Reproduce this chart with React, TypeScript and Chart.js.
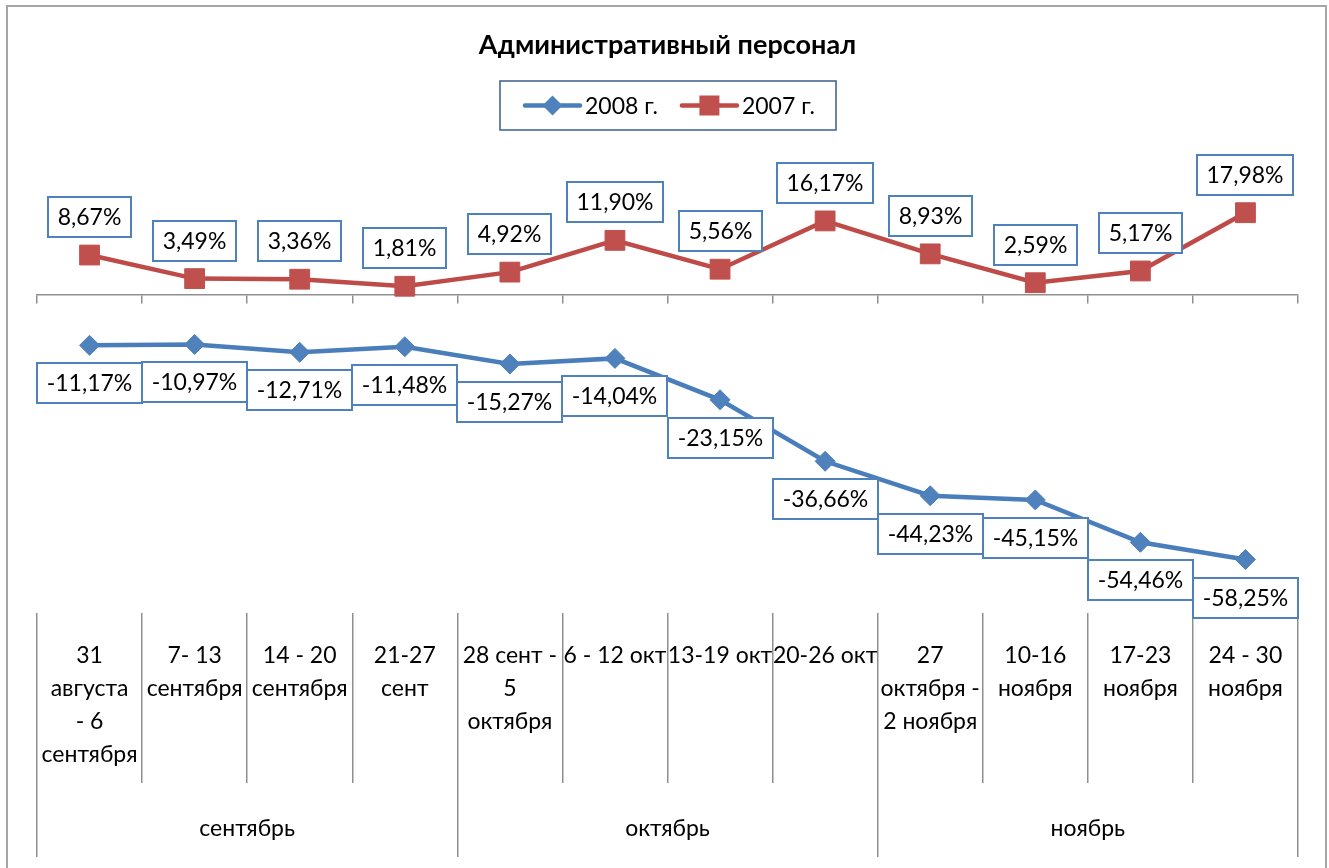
import React, { useEffect, useRef } from "react";
import { Chart, registerables } from "chart.js";

Chart.register(...registerables);

const TITLE = "Административный персонал";
const SERIES_NAMES = ["2008 г.", "2007 г."];
const WEEK_LABELS: string[][] = [
  ["31", "августа", "- 6", "сентября"],
  ["7- 13", "сентября"],
  ["14 - 20", "сентября"],
  ["21-27", "сент"],
  ["28 сент -", "5", "октября"],
  ["6 - 12 окт"],
  ["13-19 окт"],
  ["20-26 окт"],
  ["27", "октября -", "2 ноября"],
  ["10-16", "ноября"],
  ["17-23", "ноября"],
  ["24 - 30", "ноября"],
];
const MONTH_LABELS = ["сентябрь", "октябрь", "ноябрь"];
const SERIES_2008 = [-11.17, -10.97, -12.71, -11.48, -15.27, -14.04, -23.15, -36.66, -44.23, -45.15, -54.46, -58.25];
const SERIES_2007 = [8.67, 3.49, 3.36, 1.81, 4.92, 11.9, 5.56, 16.17, 8.93, 2.59, 5.17, 17.98];
const Y_MIN = -70;
const Y_MAX = 30;

const FONT = "Lato, 'Noto Sans', sans-serif";
const BLUE_LINE = "#4A7EBB";
const BLUE_FILL = "#4F81BD";
const RED_LINE = "#BE4B48";
const RED_FILL = "#C0504D";
const GRID = "#8F8F8F";
const LABEL_SIZE = 23;
const AXIS_SIZE = 23;

const fmt = (v: number) => v.toFixed(2).replace(".", ",") + "%";

const framePlugin = {
  id: "frame",
  beforeDraw(chart: any) {
    const { ctx, width, height } = chart;
    ctx.save();
    ctx.fillStyle = "#ffffff";
    ctx.fillRect(0, 0, width, height);
    ctx.strokeStyle = "#A6A6A6";
    ctx.lineWidth = 2;
    ctx.strokeRect(7, 6, width - 10, height + 10);
    ctx.restore();
  },
};

const boxLabelPlugin = {
  id: "boxLabels",
  afterDatasetsDraw(chart: any) {
    const ctx = chart.ctx;
    ctx.save();
    ctx.font = `${LABEL_SIZE}px ${FONT}`;
    ctx.textAlign = "center";
    ctx.textBaseline = "middle";
    chart.data.datasets.forEach((ds: any, di: number) => {
      const meta = chart.getDatasetMeta(di);
      const above = ds.labelAbove;
      meta.data.forEach((pt: any, i: number) => {
        const txt = fmt(ds.data[i]);
        const w = Math.round(ctx.measureText(txt).width + 19);
        const h = 40;
        const x = Math.round(pt.x - w / 2);
        const y = Math.round(above ? pt.y - 18 - h : pt.y + 18);
        ctx.fillStyle = "#ffffff";
        ctx.fillRect(x, y, w, h);
        ctx.strokeStyle = BLUE_FILL;
        ctx.lineWidth = 2;
        ctx.strokeRect(x, y, w, h);
        ctx.fillStyle = "#000000";
        ctx.fillText(txt, x + w / 2, y + h / 2 + 1);
      });
    });
    ctx.restore();
  },
};

const legendPlugin = {
  id: "boxLegend",
  afterDraw(chart: any) {
    const ctx = chart.ctx;
    const area = chart.chartArea;
    ctx.save();
    ctx.font = `${LABEL_SIZE}px ${FONT}`;
    const lineLen = 55;
    const gapText = 5;
    const gapItem = 24;
    const items = chart.data.datasets.map((ds: any) => ({
      ds,
      tw: ctx.measureText(ds.label).width,
    }));
    let content = 0;
    items.forEach((it: any, i: number) => {
      content += lineLen + gapText + it.tw + (i < items.length - 1 ? gapItem : 0);
    });
    const boxW = Math.round(content + 46);
    const boxH = 49;
    const cx = (area.left + area.right) / 2;
    const bx = Math.round(cx - boxW / 2);
    const by = 81;
    ctx.fillStyle = "#ffffff";
    ctx.fillRect(bx, by, boxW, boxH);
    ctx.strokeStyle = "#385D8A";
    ctx.lineWidth = 1.5;
    ctx.strokeRect(bx, by, boxW, boxH);
    let x = bx + 25;
    const cy = by + boxH / 2;
    items.forEach((it: any) => {
      const ds = it.ds;
      ctx.strokeStyle = ds.borderColor;
      ctx.lineWidth = 4.5;
      ctx.lineCap = "round";
      ctx.beginPath();
      ctx.moveTo(x, cy);
      ctx.lineTo(x + lineLen, cy);
      ctx.stroke();
      ctx.fillStyle = ds.pointBackgroundColor;
      const mx = x + lineLen / 2;
      if (ds.pointStyle === "rect") {
        ctx.fillRect(mx - 10, cy - 10, 20, 20);
      } else {
        ctx.beginPath();
        ctx.moveTo(mx, cy - 10);
        ctx.lineTo(mx + 10, cy);
        ctx.lineTo(mx, cy + 10);
        ctx.lineTo(mx - 10, cy);
        ctx.closePath();
        ctx.fill();
      }
      ctx.fillStyle = "#000000";
      ctx.textAlign = "left";
      ctx.textBaseline = "middle";
      ctx.fillText(ds.label, x + lineLen + gapText, cy + 1);
      x += lineLen + gapText + it.tw + gapItem;
    });
    ctx.restore();
  },
};

export default function App() {
  const ref = useRef<HTMLCanvasElement>(null);
  useEffect(() => {
    const chart = new Chart(ref.current as HTMLCanvasElement, {
      type: "line",
      data: {
        labels: WEEK_LABELS as any,
        datasets: [
          {
            label: SERIES_NAMES[0],
            data: SERIES_2008,
            borderColor: BLUE_LINE,
            backgroundColor: BLUE_FILL,
            borderWidth: 4.5,
            pointStyle: "rectRot",
            pointRadius: 10,
            pointBackgroundColor: BLUE_FILL,
            pointBorderColor: BLUE_FILL,
            pointBorderWidth: 1,
            tension: 0,
            labelAbove: false,
          } as any,
          {
            label: SERIES_NAMES[1],
            data: SERIES_2007,
            borderColor: RED_LINE,
            backgroundColor: RED_FILL,
            borderWidth: 4.5,
            pointStyle: "rect",
            pointRadius: 14,
            pointBackgroundColor: RED_FILL,
            pointBorderColor: RED_FILL,
            pointBorderWidth: 1,
            tension: 0,
            labelAbove: true,
          } as any,
        ],
      },
      options: {
        responsive: false,
        animation: false,
        layout: { padding: { left: 37, right: 31, top: 0, bottom: 11 } },
        plugins: {
          legend: { display: false },
          tooltip: { enabled: false },
          title: {
            display: true,
            text: TITLE,
            color: "#000000",
            font: { family: FONT, size: 27, weight: "bold" },
            padding: { top: 29, bottom: 96.6 },
          },
        },
        scales: {
          x: {
            type: "category",
            position: "bottom",
            weight: 0,
            offset: true,
            grid: {
              display: true,
              offset: true,
              drawOnChartArea: false,
              drawTicks: true,
              tickLength: 170,
              color: GRID,
              lineWidth: 1.5,
            },
            border: { display: false },
            ticks: {
              autoSkip: false,
              maxRotation: 0,
              minRotation: 0,
              padding: -144,
              color: "#000000",
              font: { family: FONT, size: AXIS_SIZE, lineHeight: 33 / 23 },
            },
            afterFit: (s: any) => {
              s.height = 170;
            },
          },
          xMonth: {
            type: "category",
            axis: "x",
            labels: MONTH_LABELS,
            position: "bottom",
            weight: 1,
            offset: true,
            grid: {
              display: true,
              offset: true,
              drawOnChartArea: false,
              drawTicks: true,
              tickLength: 74,
              color: GRID,
              lineWidth: 1.5,
            },
            border: { display: false },
            ticks: {
              autoSkip: false,
              maxRotation: 0,
              minRotation: 0,
              padding: -45,
              color: "#000000",
              font: { family: FONT, size: AXIS_SIZE, lineHeight: 33 / 23 },
            },
            afterFit: (s: any) => {
              s.height = 74;
            },
          },
          xZero: {
            type: "category",
            axis: "x",
            labels: WEEK_LABELS.map((l) => l.join(" ")),
            position: { y: 0 } as any,
            offset: true,
            grid: {
              display: true,
              offset: true,
              drawOnChartArea: false,
              drawTicks: true,
              tickLength: 8,
              color: GRID,
              lineWidth: 1.5,
            },
            border: { display: true, color: GRID, width: 1.5 },
            ticks: { display: false },
          },
          y: {
            display: false,
            min: Y_MIN,
            max: Y_MAX,
          },
        },
      } as any,
      plugins: [framePlugin, boxLabelPlugin, legendPlugin],
    });
    return () => chart.destroy();
  }, []);
  return (
    <div style={{ position: "fixed", left: 0, top: 0, width: 1329, height: 868, background: "#fff" }}>
      <canvas ref={ref} width={1329} height={868} style={{ display: "block" }} />
    </div>
  );
}
